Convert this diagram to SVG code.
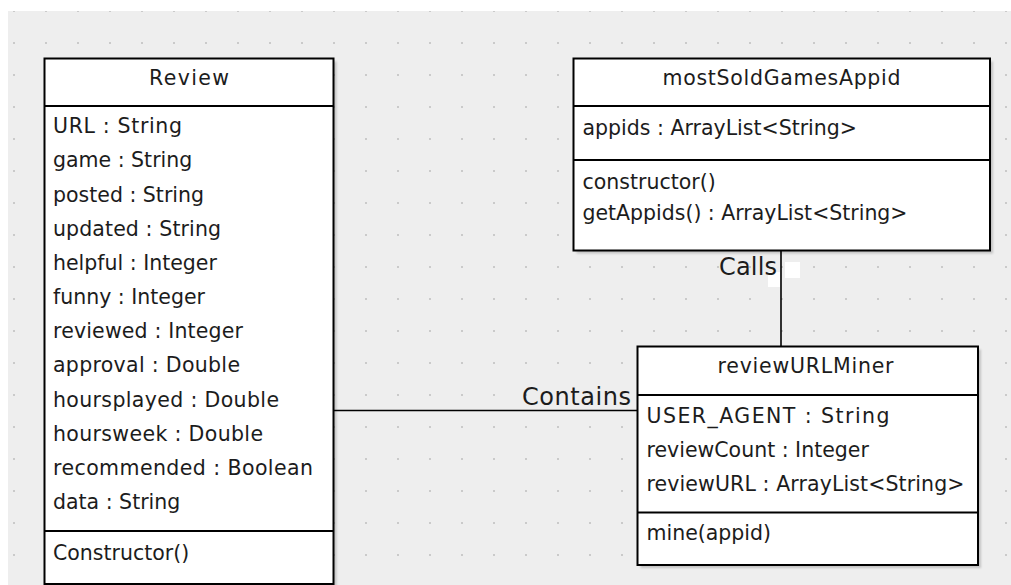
<svg xmlns="http://www.w3.org/2000/svg" width="1011" height="585" viewBox="0 0 1011 585">
  <style>
    .box { fill: #ffffff; stroke: #000000; stroke-width: 2; }
    .sep { stroke: #000000; stroke-width: 2; }
    .shadow { fill: #000000; opacity: 0.18; filter: url(#soft); }
    .t { font-family: "DejaVu Sans", "Liberation Sans", sans-serif; font-size: 20.5px; fill: #1c1c1c; }
    .hd { text-anchor: middle; }
    .lbl { font-family: "DejaVu Sans", "Liberation Sans", sans-serif; font-size: 24px; fill: #1c1c1c; }
    .conn { stroke: #000000; stroke-width: 1.6; fill: none; }
  </style>
  <defs>
    <pattern id="grid" patternUnits="userSpaceOnUse" x="13" y="10" width="32" height="32">
      <rect x="0" y="0" width="2" height="2" fill="#cacaca"/>
    </pattern>
    <filter id="soft" x="-5%" y="-5%" width="110%" height="110%">
      <feGaussianBlur stdDeviation="1.2"/>
    </filter>
  </defs>

  <!-- canvas -->
  <rect x="0" y="0" width="1011" height="585" fill="#ffffff"/>
  <rect x="8" y="11" width="1003" height="574" fill="#eeeeee"/>
  <rect x="8" y="11" width="1003" height="574" fill="url(#grid)"/>

  <!-- connectors -->
  <g id="connectors">
    <line class="conn" x1="333.5" y1="410.5" x2="637.5" y2="410.5"/>
    <line class="conn" x1="781" y1="250.5" x2="781" y2="346.5"/>
    <rect x="768" y="272" width="12" height="15" fill="#ffffff"/>
    <rect x="785" y="262" width="15" height="16" fill="#ffffff"/>
    <text class="lbl" x="522" y="405" textLength="109" lengthAdjust="spacing">Contains</text>
    <text class="lbl" x="719" y="275" textLength="58" lengthAdjust="spacing">Calls</text>
  </g>

  <!-- class Review -->
  <g id="review">
    <rect class="shadow" x="47.5" y="61.5" width="289" height="525.5"/>
    <rect class="box" x="44.5" y="58.5" width="289" height="525.5"/>
    <line class="sep" x1="44.5" y1="106" x2="333.5" y2="106"/>
    <line class="sep" x1="44.5" y1="531" x2="333.5" y2="531"/>
    <text class="t hd" x="189" y="85" textLength="80" lengthAdjust="spacing">Review</text>
    <text class="t" x="53" y="133.3" textLength="129" lengthAdjust="spacing">URL : String</text>
    <text class="t" x="53" y="167.4">game : String</text>
    <text class="t" x="53" y="201.6">posted : String</text>
    <text class="t" x="53" y="235.7" textLength="168" lengthAdjust="spacing">updated : String</text>
    <text class="t" x="53" y="269.9">helpful : Integer</text>
    <text class="t" x="53" y="304">funny : Integer</text>
    <text class="t" x="53" y="338.2" textLength="190" lengthAdjust="spacing">reviewed : Integer</text>
    <text class="t" x="53" y="372.3" textLength="187" lengthAdjust="spacing">approval : Double</text>
    <text class="t" x="53" y="406.5" textLength="226" lengthAdjust="spacing">hoursplayed : Double</text>
    <text class="t" x="53" y="440.6" textLength="210" lengthAdjust="spacing">hoursweek : Double</text>
    <text class="t" x="53" y="474.8" textLength="260" lengthAdjust="spacing">recommended : Boolean</text>
    <text class="t" x="53" y="509">data : String</text>
    <text class="t" x="53" y="559.5">Constructor()</text>
  </g>

  <!-- class mostSoldGamesAppid -->
  <g id="mostSoldGamesAppid">
    <rect class="shadow" x="576.5" y="61.5" width="416.5" height="192"/>
    <rect class="box" x="573.5" y="58.5" width="416.5" height="192"/>
    <line class="sep" x1="573.5" y1="106" x2="990" y2="106"/>
    <line class="sep" x1="573.5" y1="160" x2="990" y2="160"/>
    <text class="t hd" x="781.5" y="85" textLength="238" lengthAdjust="spacing">mostSoldGamesAppid</text>
    <text class="t" x="582.5" y="135">appids : ArrayList&lt;String&gt;</text>
    <text class="t" x="582.5" y="189">constructor()</text>
    <text class="t" x="582.5" y="220" textLength="325" lengthAdjust="spacingAndGlyphs">getAppids() : ArrayList&lt;String&gt;</text>
  </g>

  <!-- class reviewURLMiner -->
  <g id="reviewURLMiner">
    <rect class="shadow" x="640.5" y="349.5" width="340.5" height="218.5"/>
    <rect class="box" x="637.5" y="346.5" width="340.5" height="218.5"/>
    <line class="sep" x1="637.5" y1="395" x2="978" y2="395"/>
    <line class="sep" x1="637.5" y1="512.5" x2="978" y2="512.5"/>
    <text class="t hd" x="805.5" y="373" textLength="176" lengthAdjust="spacing">reviewURLMiner</text>
    <text class="t" x="646.5" y="423" textLength="243" lengthAdjust="spacing">USER_AGENT : String</text>
    <text class="t" x="646.5" y="457">reviewCount : Integer</text>
    <text class="t" x="646.5" y="491" textLength="318" lengthAdjust="spacing">reviewURL : ArrayList&lt;String&gt;</text>
    <text class="t" x="646.5" y="539.5">mine(appid)</text>
  </g>
</svg>
